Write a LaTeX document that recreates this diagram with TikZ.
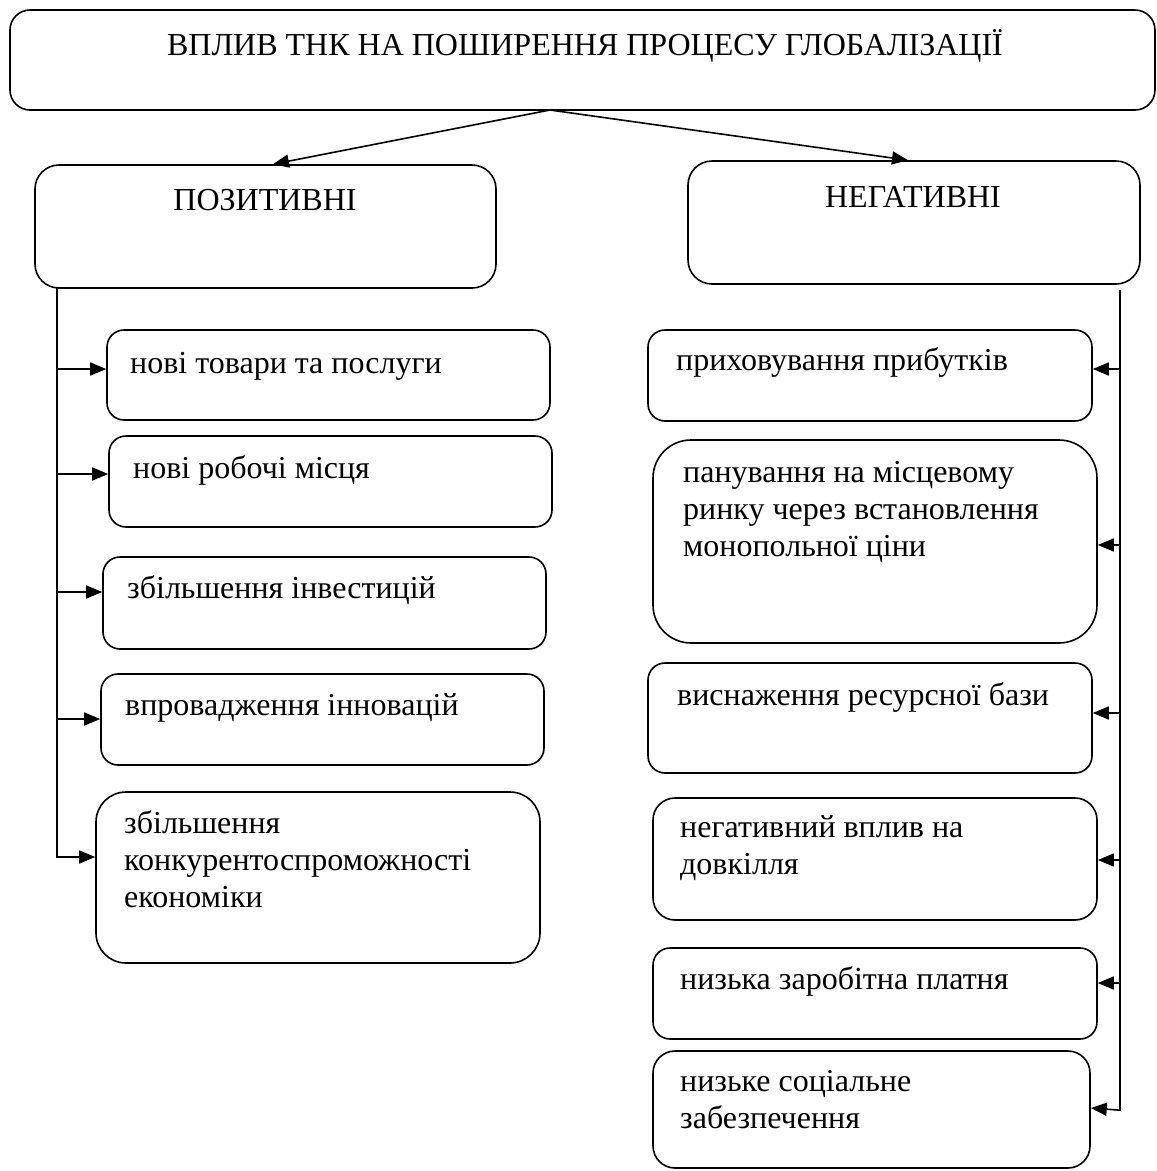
\documentclass[tikz,border=0pt]{standalone}
\usepackage{fontspec}
\setmainfont{Liberation Serif}
\usetikzlibrary{arrows.meta}
\newcommand\bigtxt{\fontsize{32}{37}\selectfont}
\tikzset{
  box/.style={draw, line width=1.6pt, rounded corners=#1, inner sep=0pt},
  box/.default=17pt,
  txt/.style={anchor=base west, inner sep=0pt, font=\bigtxt, align=left},
  ctxt/.style={anchor=base, inner sep=0pt, font=\bigtxt},
  conn/.style={line width=1.6pt, -{Triangle[length=16pt,width=13pt]}},
  plain/.style={line width=1.6pt}
}
\begin{document}
\begin{tikzpicture}[x=1pt,y=-1pt]
\useasboundingbox (0,0) rectangle (1157,1171);
% top
\node[box=20pt, minimum width=1145pt, minimum height=100pt] (title) at (582.5,60) {};
\node[ctxt] (titlet) at (585,55) {ВПЛИВ ТНК НА ПОШИРЕННЯ ПРОЦЕСУ ГЛОБАЛІЗАЦІЇ};
\node[box=24pt, minimum width=461pt, minimum height=123pt] (pos) at (265.5,226.5) {};
\node[ctxt] (post) at (265,210) {ПОЗИТИВНІ};
\node[box=24pt, minimum width=452pt, minimum height=123pt] (neg) at (914,222.5) {};
\node[ctxt] (negt) at (913,207) {НЕГАТИВНІ};
\coordinate (split) at (550,110);
\draw[conn] (split) -- (pos.north -| 273,0);
\draw[conn] (split) -- (neg.north -| 908,0);
% left boxes
\node[box, minimum width=443pt, minimum height=90pt] (L1) at (328.5,375) {};
\node[txt] (L1t) at (130,373) {нові товари та послуги};
\node[box, minimum width=443pt, minimum height=91pt] (L2) at (330.5,481.5) {};
\node[txt] (L2t) at (133,478) {нові робочі місця};
\node[box, minimum width=443pt, minimum height=92pt] (L3) at (324.5,603) {};
\node[txt] (L3t) at (127,598) {збільшення інвестицій};
\node[box, minimum width=443pt, minimum height=91pt] (L4) at (322.5,719.5) {};
\node[txt] (L4t) at (125,715) {впровадження інновацій};
\node[box=30pt, minimum width=444pt, minimum height=171pt] (L5) at (318,877.5) {};
\node[txt, anchor=north west] (L5t) at (124,810) {збільшення\\конкурентоспроможності\\економіки};
% right boxes
\node[box, minimum width=444pt, minimum height=91pt] (R1) at (870,375.5) {};
\node[txt] (R1t) at (676,370) {приховування прибутків};
\node[box=38pt, minimum width=444pt, minimum height=203pt] (R2) at (875,541.5) {};
\node[txt, anchor=north west] (R2t) at (683,461) {панування на місцевому\\ринку через встановлення\\монопольної ціни};
\node[box, minimum width=444pt, minimum height=110pt] (R3) at (870,718) {};
\node[txt] (R3t) at (677,705) {виснаження ресурсної бази};
\node[box=22pt, minimum width=444pt, minimum height=122pt] (R4) at (875,859) {};
\node[txt, anchor=north west] (R4t) at (680,815) {негативний вплив на\\довкілля};
\node[box, minimum width=444pt, minimum height=91pt] (R5) at (875,993.5) {};
\node[txt] (R5t) at (680,989) {низька заробітна платня};
\node[box=22pt, minimum width=437pt, minimum height=117pt] (R6) at (871.5,1109.5) {};
\node[txt, anchor=north west] (R6t) at (680,1070) {низьке соціальне\\забезпечення};
% left spine
\coordinate (ltop) at (57,288);
\coordinate (lbot) at (57,858);
\draw[plain] (ltop) -- (lbot);
\foreach \b/\y in {L1/369, L2/474, L3/592, L4/719, L5/857}
  \draw[conn] (57,\y) -- (\b.west |- 0,\y);
% right spine
\coordinate (rtop) at (1120,290);
\coordinate (rbot) at (1120,1111);
\draw[plain, line join=miter] (rtop) -- (rbot);
\foreach \b/\y in {R1/369, R2/545, R3/713, R4/860, R5/983}
  \draw[conn] (1120,\y) -- (\b.east |- 0,\y);
\draw[conn] ([yshift=0.8pt]rbot) -- (R6.east |- 0,1108);
\end{tikzpicture}
\end{document}
